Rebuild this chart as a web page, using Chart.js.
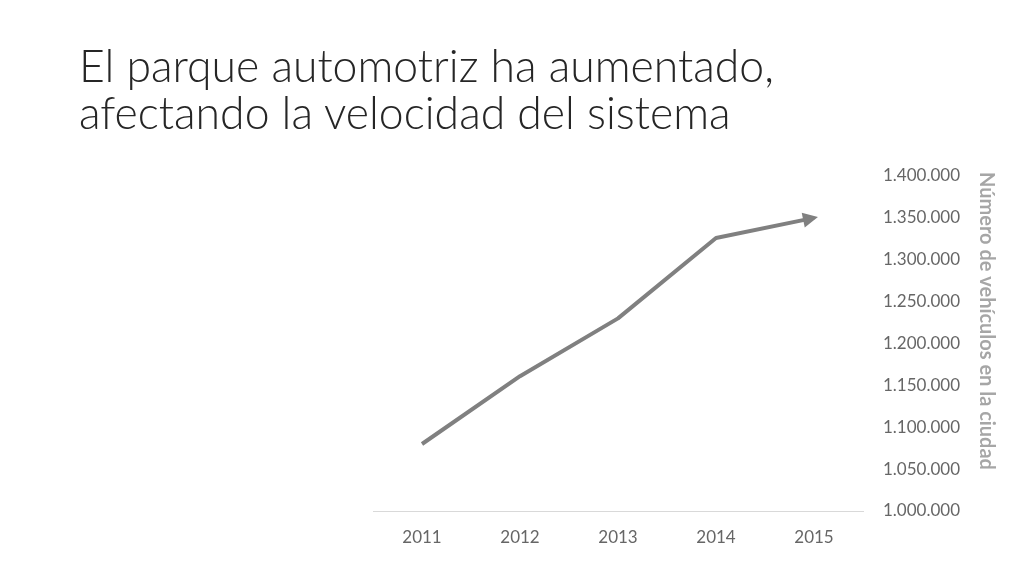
<!DOCTYPE html>
<html><head><meta charset="utf-8">
<script src="https://cdn.jsdelivr.net/npm/chart.js@4"></script>
<style>
html,body{margin:0;padding:0;background:#fff;width:1024px;height:576px;overflow:hidden}
canvas{position:absolute;left:0;top:0}
#title{position:absolute;left:79px;top:41px;font-family:Lato,"Open Sans",sans-serif;font-weight:300;font-size:40px;line-height:47px;color:#262626;white-space:nowrap}
#title span{display:inline-block}
</style></head>
<body>
<canvas id="c" width="1024" height="576"></canvas>
<div id="title"><span id="l1">El parque automotriz ha aumentado,</span><br><span>afectando la velocidad del sistema</span></div>
<script>
const years = ['2011', '2012', '2013', '2014', '2015'];
const vehicles = [1080000, 1161000, 1230000, 1326000, 1350000];
const yMin = 1000000;
const yMax = 1400000;
const yStep = 50000;
const yAxisTitle = 'Número de vehículos en la ciudad';

// fit title line 1 width to ~695px
(function(){
  const t = document.getElementById('title');
  const w = document.getElementById('l1').getBoundingClientRect().width;
  const s = 40 * 695 / w;
  t.style.fontSize = s.toFixed(2) + 'px';
})();

function fmt(v){ return String(v).replace(/\B(?=(\d{3})+(?!\d))/g, '.'); }

const arrowPlugin = {
  id: 'arrowEnd',
  afterDatasetsDraw(chart){
    const pts = chart.getDatasetMeta(0).data;
    const a = pts[pts.length-2], b = pts[pts.length-1];
    const ang = Math.atan2(b.y - a.y, b.x - a.x);
    const ctx = chart.ctx;
    ctx.save();
    ctx.translate(b.x, b.y);
    ctx.rotate(ang);
    ctx.fillStyle = '#808080';
    ctx.beginPath();
    ctx.moveTo(4, 0);
    ctx.lineTo(-11, -7.5);
    ctx.lineTo(-11, 7.5);
    ctx.closePath();
    ctx.fill();
    ctx.restore();
  }
};

const yTitlePlugin = {
  id: 'yTitle',
  afterDraw(chart){
    const ctx = chart.ctx;
    ctx.save();
    ctx.translate(986, 321);
    ctx.rotate(Math.PI/2);
    ctx.font = 'bold 16px Lato, "Open Sans", sans-serif';
    const w = ctx.measureText(yAxisTitle).width;
    const s = 16 * 298 / w;
    ctx.font = 'bold ' + s.toFixed(2) + 'px Lato, "Open Sans", sans-serif';
    ctx.fillStyle = '#A6A6A6';
    ctx.textAlign = 'center';
    ctx.textBaseline = 'middle';
    ctx.fillText(yAxisTitle, 0, 0);
    ctx.restore();
  }
};

new Chart(document.getElementById('c'), {
  type: 'line',
  data: {
    labels: years,
    datasets: [{
      data: vehicles,
      borderColor: '#808080',
      borderWidth: 4,
      borderCapStyle: 'butt',
      borderJoinStyle: 'round',
      pointRadius: 0,
      tension: 0,
      fill: false
    }]
  },
  options: {
    responsive: false,
    animation: false,
    events: [],
    layout: { padding: { left: 373, top: 176, right: 0, bottom: 0 } },
    plugins: { legend: { display: false }, tooltip: { enabled: false }, title: { display: false } },
    scales: {
      x: {
        type: 'category',
        offset: true,
        grid: { display: false, drawTicks: false },
        border: { display: true, color: '#D9D9D9', width: 1 },
        ticks: { color: '#666666', font: { family: 'Lato, "Open Sans", sans-serif', size: 17 }, padding: 16, maxRotation: 0 },
        afterFit(s){ s.height = 65; }
      },
      y: {
        position: 'right',
        min: yMin, max: yMax,
        grid: { display: false, drawTicks: false },
        border: { display: false },
        ticks: { stepSize: yStep, color: '#666666', font: { family: 'Lato, "Open Sans", sans-serif', size: 17 }, padding: 20, callback: v => fmt(v) },
        afterFit(s){ s.width = 161; }
      }
    }
  },
  plugins: [arrowPlugin, yTitlePlugin]
});
</script>
</body></html>
